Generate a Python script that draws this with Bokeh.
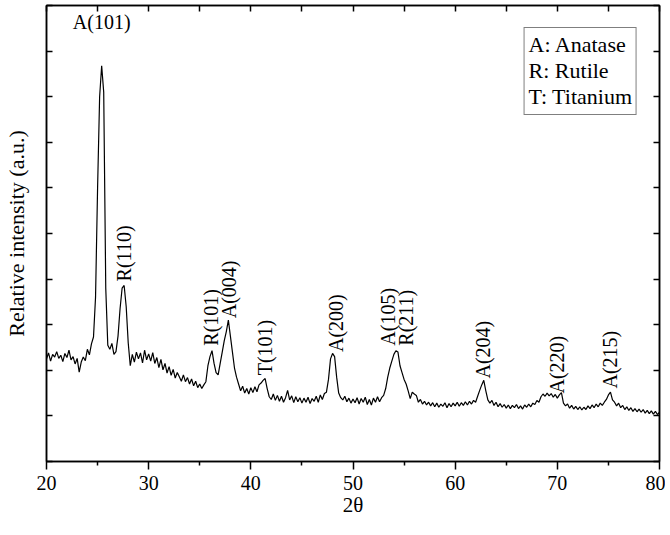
import numpy as np
from bokeh.plotting import figure
from bokeh.models import (LinearAxis, FixedTicker, Legend, LegendItem,
                          ColumnDataSource, Range1d)
from bokeh.embed import file_html
from bokeh.resources import INLINE
from bokeh.core.properties import value

# ---------------- data ----------------
two_theta = np.round(np.arange(20.0, 80.0001, 0.2), 1)

intensity = [
    22.5, 23.8, 22.0, 23.5, 22.9,   # 20
    24.1, 22.6, 23.3, 21.9, 23.7,   # 21
    22.8, 24.4, 22.3, 23.0, 21.4,   # 22
    22.6, 19.6, 21.8, 22.9, 22.1,   # 23
    24.6, 23.4, 25.8, 27.3, 36.0,   # 24
    60.0, 80.0, 86.8, 81.0, 38.0,   # 25
    25.5, 24.6, 25.9, 23.5, 24.1,   # 26
    27.5, 33.5, 38.0, 38.6, 34.0,   # 27
    26.0, 21.0, 23.5, 21.8, 24.0,   # 28
    22.5, 23.8, 21.6, 24.4, 22.3,   # 29
    23.6, 22.0, 23.9, 21.5, 22.8,   # 30
    20.6, 22.4, 20.1, 21.5, 19.4,   # 31
    20.8, 18.9, 20.2, 18.3, 19.5,   # 32
    18.6, 17.6, 19.0, 17.5, 18.4,   # 33
    17.0, 18.1, 16.6, 17.6, 16.2,   # 34
    17.0, 16.0, 16.8, 17.5, 21.0,   # 35
    23.0, 24.3, 21.5, 19.5, 19.0,   # 36
    21.5, 24.0, 26.5, 28.5, 31.0,   # 37
    27.5, 24.0, 20.5, 18.5, 17.0,   # 38
    15.5, 16.5, 15.0, 16.0, 14.8,   # 39
    16.2, 15.1, 16.4, 15.3, 16.8,   # 40
    17.2, 17.8, 18.2, 16.0, 14.2,   # 41
    13.6, 14.8, 13.4, 14.5, 13.2,   # 42
    14.3, 13.0, 14.0, 15.6, 13.5,   # 43
    14.4, 12.9, 14.2, 13.1, 14.0,   # 44
    12.8, 13.9, 13.0, 14.1, 12.7,   # 45
    13.8, 13.2, 14.3, 13.0, 14.6,   # 46
    13.6, 14.9, 15.2, 18.0, 22.5,   # 47
    23.7, 23.0, 18.5, 15.0, 14.0,   # 48
    13.5, 14.3, 13.1, 13.9, 12.8,   # 49
    13.7, 12.9, 14.0, 12.6, 13.8,   # 50
    13.0, 14.1, 12.5, 13.6, 12.4,   # 51
    13.9, 13.0, 14.2, 13.1, 14.0,   # 52
    14.5, 16.0, 18.5, 20.5, 22.0,   # 53
    23.5, 24.3, 24.0, 21.0, 19.5,   # 54
    18.0, 17.0, 15.5, 13.8, 15.2,   # 55
    14.8, 14.5, 13.0, 13.6, 12.6,   # 56
    13.2, 12.4, 13.0, 12.2, 12.9,   # 57
    12.0, 12.8, 11.9, 12.6, 12.1,   # 58
    12.9, 11.8, 12.7, 12.0, 12.8,   # 59
    12.2, 13.0, 12.1, 12.9, 12.3,   # 60
    13.1, 12.4, 13.2, 12.6, 13.4,   # 61
    13.0, 14.3, 15.6, 16.8, 17.8,   # 62
    15.5, 13.5, 12.8, 13.4, 12.3,   # 63
    13.0, 12.0, 12.7, 11.9, 12.5,   # 64
    11.7, 12.4, 11.6, 12.3, 11.8,   # 65
    12.5, 11.6, 12.2, 11.5, 12.4,   # 66
    11.9, 12.6, 12.0, 12.8, 12.5,   # 67
    13.4, 13.0, 14.2, 14.8, 14.3,   # 68
    15.0, 14.4, 14.9, 14.1, 14.7,   # 69
    13.9, 14.6, 15.1, 12.8, 12.2,   # 70
    12.6, 11.7, 12.3, 11.5, 12.1,   # 71
    11.4, 12.0, 11.3, 11.9, 11.4,   # 72
    12.2, 11.6, 12.4, 11.8, 12.6,   # 73
    12.0, 12.8, 12.3, 13.0, 13.6,   # 74
    14.6, 15.2, 13.5, 13.0, 12.2,   # 75
    12.8, 11.8, 12.3, 11.4, 12.0,   # 76
    11.2, 11.8, 11.0, 11.6, 10.9,   # 77
    11.5, 10.8, 11.4, 10.6, 11.2,   # 78
    10.5, 11.1, 10.4, 11.0, 10.3,   # 79
    10.8,                           # 80
]

# vertical peak labels
peak_text = ["R(110)", "R(101)", "A(004)", "T(101)", "A(200)",
             "A(105)", "R(211)", "A(204)", "A(220)", "A(215)"]
peak_x = [27.6, 36.15, 37.9, 41.4, 48.3, 53.4, 55.2, 62.7, 70.0, 75.2]
peak_y = [39.5, 25.4, 31.4, 18.9, 24.0, 25.4, 25.4, 18.2, 14.9, 16.0]

# horizontal label of the main peak
top_text = ["A(101)"]
top_x = [25.4]
top_y = [94.0]

legend_labels = ["A: Anatase", "R: Rutile", "T: Titanium"]

x_ticks = [20, 30, 40, 50, 60, 70, 80]
x_minor = [25, 35, 45, 55, 65, 75]
y_ticks = [0, 10, 20, 30, 40, 50, 60, 70, 80, 90, 100]

FONT = "Liberation Serif"

# ---------------- figure ----------------
p = figure(frame_width=613, frame_height=456,
           x_range=Range1d(20, 80), y_range=Range1d(0, 100),
           output_backend="svg", toolbar_location=None,
           min_border_left=46, min_border_top=5, min_border_right=6,
           min_border_bottom=60,
           x_axis_label="2θ", y_axis_label="Relative intensity (a.u.)")
p.background_fill_color = "white"
p.border_fill_color = "white"
p.grid.visible = False
p.outline_line_color = "black"
p.outline_line_width = 1.5

src = ColumnDataSource(dict(x=two_theta, y=intensity))
p.line("x", "y", source=src, line_color="black", line_width=1.2)

# bottom axis
xa = p.xaxis[0]
xa.ticker = FixedTicker(ticks=x_ticks, minor_ticks=x_minor)
xa.major_tick_in = 0
xa.major_tick_out = 8
xa.minor_tick_in = 0
xa.minor_tick_out = 4
xa.axis_line_width = 1.5
xa.major_tick_line_width = 1.5
xa.minor_tick_line_width = 1.5
xa.major_label_text_font = FONT
xa.major_label_text_font_size = "20px"
xa.major_label_text_color = "black"
xa.major_label_standoff = 6
xa.axis_label_text_font = FONT
xa.axis_label_text_font_size = "21px"
xa.axis_label_text_font_style = "normal"
xa.axis_label_text_color = "black"
xa.axis_label_standoff = 0

# left axis
ya = p.yaxis[0]
ya.ticker = FixedTicker(ticks=y_ticks)
ya.major_tick_in = 6
ya.major_tick_out = 0
ya.minor_tick_line_color = None
ya.axis_line_width = 1.5
ya.major_tick_line_width = 1.5
ya.major_label_text_font_size = "0px"
ya.major_label_text_color = None
ya.major_label_standoff = 0
ya.axis_label_text_font = FONT
ya.axis_label_text_font_size = "22px"
ya.axis_label_text_font_style = "normal"
ya.axis_label_text_color = "black"
ya.axis_label_standoff = 18

# top axis (inward ticks, no labels)
top_axis = LinearAxis(ticker=FixedTicker(ticks=x_ticks, minor_ticks=x_minor),
                      major_tick_in=6, major_tick_out=0,
                      minor_tick_in=6, minor_tick_out=0,
                      axis_line_width=1.5, major_tick_line_width=1.5,
                      minor_tick_line_width=1.5,
                      major_label_text_font_size="0px",
                      major_label_text_color=None, major_label_standoff=0)
p.add_layout(top_axis, "above")

# right axis (inward ticks, no labels)
right_axis = LinearAxis(ticker=FixedTicker(ticks=y_ticks),
                        major_tick_in=6, major_tick_out=0,
                        minor_tick_line_color=None,
                        axis_line_width=1.5, major_tick_line_width=1.5,
                        major_label_text_font_size="0px",
                        major_label_text_color=None, major_label_standoff=0)
p.add_layout(right_axis, "right")

# peak labels
lab_src = ColumnDataSource(dict(x=peak_x, y=peak_y, t=peak_text))
p.text("x", "y", text="t", source=lab_src, angle=np.pi / 2,
       text_align="left", text_baseline="middle",
       text_font=value(FONT), text_font_size="20px", text_color="black")

top_src = ColumnDataSource(dict(x=top_x, y=top_y, t=top_text))
p.text("x", "y", text="t", source=top_src, angle=0,
       text_align="center", text_baseline="bottom",
       text_font=value(FONT), text_font_size="20px", text_color="black")

# legend (text-only)
dummy = p.line(x=[], y=[], line_alpha=0)
legend = Legend(items=[LegendItem(label=l, renderers=[dummy]) for l in legend_labels],
                location="top_right", margin=22,
                glyph_width=0, glyph_height=20, label_height=20,
                label_standoff=0, padding=4, spacing=0,
                label_text_font=FONT, label_text_font_size="22px",
                label_text_color="black",
                border_line_color="black", border_line_width=1.5,
                background_fill_color="white", background_fill_alpha=1)
p.add_layout(legend, "center")

open("out.html", "w").write(file_html(p, INLINE))
